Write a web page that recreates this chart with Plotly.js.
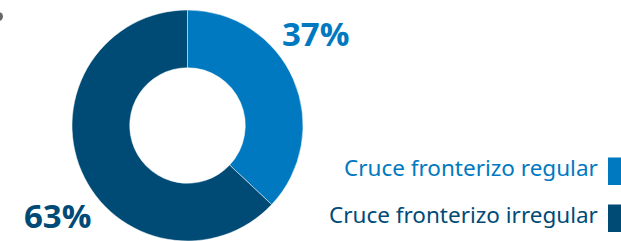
<!DOCTYPE html>
<html>
<head>
<meta charset="utf-8">
<script src="https://cdn.plot.ly/plotly-3.0.1.min.js"></script>
<style>html,body{margin:0;padding:0;background:#fff;}#chart{width:621px;height:241px;}</style>
</head>
<body>
<div id="chart"></div>
<script>
const categories = ["Cruce fronterizo regular", "Cruce fronterizo irregular"];
const values = [37, 63];
const colors = ["#0079C0", "#004B76"];

const W = 621, H = 241;
const cx = 187.5, cy = 125.5, R = 115.5;

const data = [{
  type: "pie",
  labels: categories,
  values: values,
  hole: 0.5,
  sort: false,
  direction: "clockwise",
  rotation: 0,
  textinfo: "none",
  hoverinfo: "none",
  showlegend: false,
  marker: {colors: colors, line: {color: "#ffffff", width: 0.5}},
  domain: {x: [(cx - R) / W, (cx + R) / W], y: [(H - cy - R) / H, (H - cy + R) / H]}
}];

const pctPos = [{x: 315, y: 34}, {x: 57, y: 215}];
const legendY = [167, 214];
const annotations = [];
const shapes = [];
values.forEach((v, i) => {
  annotations.push({
    xref: "paper", yref: "paper",
    x: pctPos[i].x / W, y: 1 - pctPos[i].y / H,
    xanchor: "center", yanchor: "middle",
    text: v + "%", showarrow: false,
    font: {family: "Open Sans", size: 33, color: colors[i], weight: 700}
  });
  annotations.push({
    xref: "paper", yref: "paper",
    x: 600 / W, y: 1 - legendY[i] / H,
    xanchor: "right", yanchor: "middle",
    text: categories[i], showarrow: false,
    font: {family: "Noto Sans", size: 22.5, color: colors[i]}
  });
  shapes.push({
    type: "rect", xref: "paper", yref: "paper",
    x0: 608 / W, x1: 1.05,
    y0: 1 - (legendY[i] + 18) / H, y1: 1 - (legendY[i] - 9.5) / H,
    fillcolor: colors[i], line: {width: 0}
  });
});
shapes.push({
  type: "circle", xref: "paper", yref: "paper",
  x0: -6 / W, x1: 3 / W, y0: 1 - 21 / H, y1: 1 - 12 / H,
  fillcolor: "#666666", line: {width: 0}
});

const layout = {
  width: W, height: H,
  margin: {l: 0, r: 0, t: 0, b: 0},
  paper_bgcolor: "#ffffff",
  annotations: annotations,
  shapes: shapes
};

Plotly.newPlot("chart", data, layout, {staticPlot: true, displayModeBar: false});
</script>
</body>
</html>
